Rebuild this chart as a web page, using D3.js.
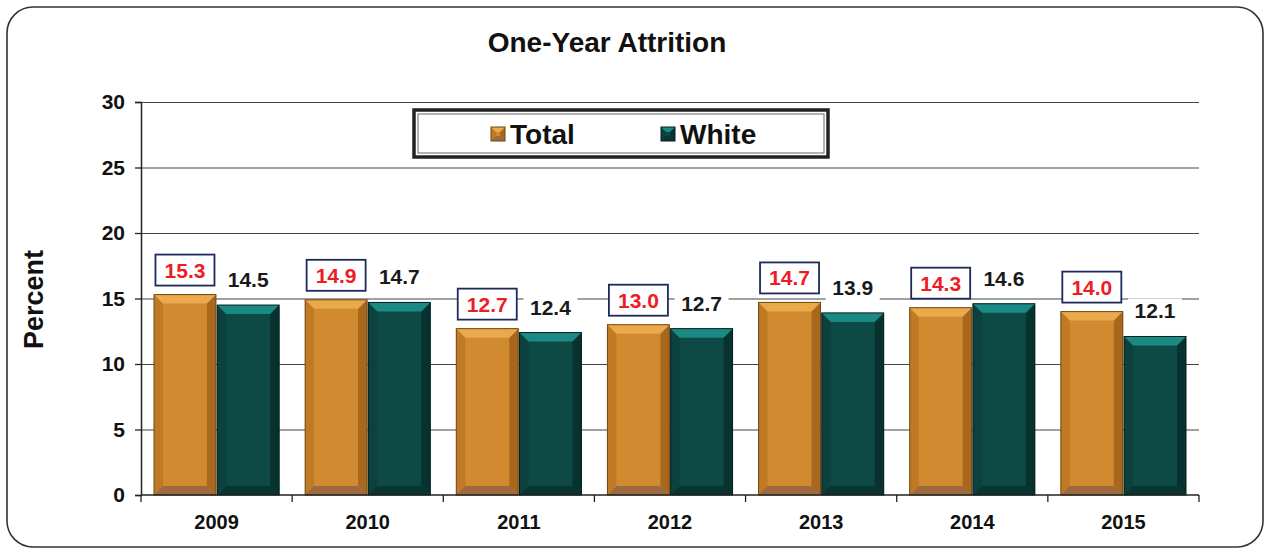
<!DOCTYPE html>
<html>
<head>
<meta charset="utf-8">
<script src="https://cdn.jsdelivr.net/npm/d3@7"></script>
<style>
  body { margin: 0; background: #fff; }
  svg { font-family: Arial, "Liberation Sans", sans-serif; }
</style>
</head>
<body>
<svg id="chart"></svg>
<script>
const years = ['2009', '2010', '2011', '2012', '2013', '2014', '2015'];
const totalValues = [15.3, 14.9, 12.7, 13.0, 14.7, 14.3, 14.0];
const whiteValues = [14.5, 14.7, 12.4, 12.7, 13.9, 14.6, 12.1];
const seriesNames = ['Total', 'White'];
const yTicks = [0, 5, 10, 15, 20, 25, 30];

const width = 1267;
const height = 550;
const plot = { left: 141, right: 1199, top: 102, bottom: 495 };

const palette = {
  Total: { main: '#d18a2f', top: '#eaa94b', left: '#c07a26', right: '#a8671d', bottom: '#9c6a3e', edge: '#6e4816' },
  White: { main: '#0e4a45', top: '#1b8a84', left: '#0c413d', right: '#08322f', bottom: '#0a3431', edge: '#04201e' },
};

const svg = d3.select('#chart')
  .attr('width', width)
  .attr('height', height);

// outer frame
svg.append('rect')
  .attr('x', 7).attr('y', 7)
  .attr('width', 1256).attr('height', 540)
  .attr('rx', 26).attr('ry', 26)
  .attr('fill', '#fff')
  .attr('stroke', '#333')
  .attr('stroke-width', 1.6);

svg.append('text')
  .attr('x', 607).attr('y', 52)
  .attr('text-anchor', 'middle')
  .attr('font-size', 28).attr('font-weight', 'bold')
  .attr('fill', '#111')
  .text('One-Year Attrition');

const y = d3.scaleLinear().domain([0, 30]).range([plot.bottom, plot.top]);
const x0 = d3.scaleBand().domain(years)
  .range([plot.left, plot.right])
  .paddingInner(0.172).paddingOuter(0.086);
const x1 = d3.scaleBand().domain(seriesNames)
  .range([0, x0.bandwidth()])
  .paddingInner(0.02);

// gridlines
const grid = svg.append('g')
  .attr('transform', `translate(${plot.left},0)`)
  .call(d3.axisLeft(y).tickValues(yTicks.filter((t) => t > 0))
    .tickSize(-(plot.right - plot.left)).tickFormat(''));
grid.select('.domain').remove();
grid.selectAll('line').attr('stroke', '#444').attr('stroke-width', 1.2);

// y axis
const yAxis = svg.append('g')
  .attr('transform', `translate(${plot.left},0)`)
  .call(d3.axisLeft(y).tickValues(yTicks).tickSize(6).tickPadding(10));
yAxis.select('.domain').attr('stroke', '#222').attr('stroke-width', 1.5);
yAxis.selectAll('line').attr('stroke', '#222').attr('stroke-width', 1.3);
yAxis.selectAll('text')
  .attr('font-size', 21).attr('font-weight', 'bold')
  .attr('fill', '#111')
  .attr('font-family', 'Arial, "Liberation Sans", sans-serif');

svg.append('text')
  .attr('transform', `translate(43,${(plot.top + plot.bottom) / 2 + 1}) rotate(-90)`)
  .attr('text-anchor', 'middle')
  .attr('font-size', 27).attr('font-weight', 'bold')
  .attr('fill', '#111')
  .text('Percent');

// bevelled bar
function bevelBar(g, x, yTop, w, h, col, b) {
  const bb = Math.min(b, h / 2);
  const pts = (arr) => arr.map((p) => p.join(',')).join(' ');
  g.append('rect').attr('x', x).attr('y', yTop).attr('width', w).attr('height', h)
    .attr('fill', col.main);
  g.append('polygon').attr('fill', col.left)
    .attr('points', pts([[x, yTop], [x + bb, yTop + bb], [x + bb, yTop + h - bb], [x, yTop + h]]));
  g.append('polygon').attr('fill', col.right)
    .attr('points', pts([[x + w, yTop], [x + w - bb, yTop + bb], [x + w - bb, yTop + h - bb], [x + w, yTop + h]]));
  g.append('polygon').attr('fill', col.top)
    .attr('points', pts([[x, yTop], [x + w, yTop], [x + w - bb, yTop + bb], [x + bb, yTop + bb]]));
  g.append('polygon').attr('fill', col.bottom)
    .attr('points', pts([[x, yTop + h], [x + w, yTop + h], [x + w - bb, yTop + h - bb], [x + bb, yTop + h - bb]]));
  g.append('rect').attr('x', x).attr('y', yTop).attr('width', w).attr('height', h)
    .attr('fill', 'none').attr('stroke', col.edge).attr('stroke-width', 1);
}

const rows = years.map((yr, i) => ({ year: yr, Total: totalValues[i], White: whiteValues[i] }));
const bars = svg.append('g');
rows.forEach((d) => {
  seriesNames.forEach((s) => {
    const bx = x0(d.year) + x1(s);
    const by = y(d[s]);
    bevelBar(bars, bx, by, x1.bandwidth(), plot.bottom - by, palette[s], 9);
  });
});

// value labels
const labels = svg.append('g');
rows.forEach((d) => {
  const cxT = x0(d.year) + x1('Total') + x1.bandwidth() / 2;
  const boxB = y(d.Total) - 9;
  labels.append('rect')
    .attr('x', cxT - 29.5).attr('y', boxB - 31)
    .attr('width', 59).attr('height', 31)
    .attr('fill', '#fff').attr('stroke', '#1f2a5c').attr('stroke-width', 1.8);
  labels.append('text')
    .attr('x', cxT).attr('y', boxB - 8)
    .attr('text-anchor', 'middle')
    .attr('font-size', 21).attr('font-weight', 'bold')
    .attr('fill', '#ee1c24')
    .text(d.Total.toFixed(1));

  const cxW = x0(d.year) + x1('White') + x1.bandwidth() / 2;
  const tyW = y(d.White) - 18;
  labels.append('rect')
    .attr('x', cxW - 27).attr('y', tyW - 20)
    .attr('width', 54).attr('height', 26)
    .attr('fill', '#fff');
  labels.append('text')
    .attr('x', cxW).attr('y', tyW)
    .attr('text-anchor', 'middle')
    .attr('font-size', 21).attr('font-weight', 'bold')
    .attr('fill', '#1a1a1a')
    .text(d.White.toFixed(1));
});

// x axis
const xAxis = svg.append('g');
xAxis.append('line')
  .attr('x1', plot.left).attr('x2', plot.right)
  .attr('y1', plot.bottom).attr('y2', plot.bottom)
  .attr('stroke', '#222').attr('stroke-width', 1.5);
const step = x0.step();
const bounds = years.map((yr) => x0(yr) - step * x0.paddingInner() / 2)
  .concat([plot.right]);
xAxis.selectAll('line.tick')
  .data(bounds)
  .join('line')
  .attr('class', 'tick')
  .attr('x1', (d) => d).attr('x2', (d) => d)
  .attr('y1', plot.bottom).attr('y2', plot.bottom + 7)
  .attr('stroke', '#222').attr('stroke-width', 1.3);
xAxis.selectAll('text')
  .data(years)
  .join('text')
  .attr('x', (d) => x0(d) + x0.bandwidth() / 2)
  .attr('y', 529)
  .attr('text-anchor', 'middle')
  .attr('font-size', 20).attr('font-weight', 'bold')
  .attr('fill', '#111')
  .text((d) => d);

// legend
const legend = svg.append('g');
legend.append('rect')
  .attr('x', 414).attr('y', 110).attr('width', 414).attr('height', 47)
  .attr('fill', '#fff').attr('stroke', '#222').attr('stroke-width', 3.5);
legend.append('rect')
  .attr('x', 418).attr('y', 114).attr('width', 406).attr('height', 39)
  .attr('fill', 'none').attr('stroke', '#666').attr('stroke-width', 1);
const legendX = [491, 661];
seriesNames.forEach((s, i) => {
  const lg = legend.append('g');
  bevelBar(lg, legendX[i], 127, 14, 14, palette[s], 5);
  legend.append('text')
    .attr('x', legendX[i] + 19).attr('y', 144)
    .attr('font-size', 28).attr('font-weight', 'bold')
    .attr('fill', '#111')
    .text(s);
});
</script>
</body>
</html>
